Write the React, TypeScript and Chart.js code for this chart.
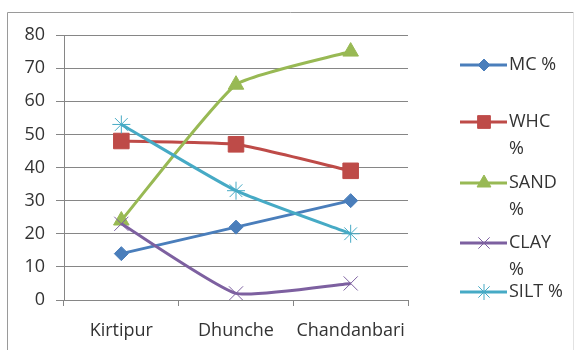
import React, { useEffect, useRef } from "react";
import { Chart, registerables } from "chart.js";
import { drawPoint } from "chart.js/helpers";

Chart.register(...registerables);

const categories = ["Kirtipur", "Dhunche", "Chandanbari"];
const mcValues = [14, 22, 30];
const whcValues = [48, 47, 39];
const sandValues = [24, 65, 75];
const clayValues = [23, 2, 5];
const siltValues = [53, 33, 20];
const seriesNames = ["MC %", "WHC %", "SAND %", "CLAY %", "SILT %"];
const yMin = 0;
const yMax = 80;
const yStep = 10;

const FONT_FAMILY = "'Open Sans', sans-serif";
const TEXT_COLOR = "#333333";
const GRID_COLOR = "#868686";

const legendPlugin = {
  id: "sideLegend",
  afterDraw(chart: any) {
    const ctx = chart.ctx as CanvasRenderingContext2D;
    const ys = [65, 122, 183, 243, 292];
    const lineH = 27;
    ctx.save();
    ctx.font = `18px ${FONT_FAMILY}`;
    ctx.textBaseline = "middle";
    ctx.textAlign = "left";
    chart.data.datasets.forEach((ds: any, i: number) => {
      const y = ys[i];
      ctx.strokeStyle = ds.borderColor;
      ctx.lineWidth = 3;
      ctx.beginPath();
      ctx.moveTo(460, y);
      ctx.lineTo(507, y);
      ctx.stroke();
      ctx.fillStyle = ds.pointBackgroundColor;
      ctx.strokeStyle = ds.pointBorderColor;
      ctx.lineWidth = ds.pointBorderWidth;
      drawPoint(ctx, {
        pointStyle: ds.pointStyle,
        rotation: 0,
        radius: ds.legendRadius,
        borderWidth: ds.pointBorderWidth,
      } as any, 484, y);
      const words = String(ds.label).split(" ");
      const lines: string[] = [];
      let cur = "";
      words.forEach((w) => {
        const test = cur ? cur + " " + w : w;
        if (cur && ctx.measureText(test).width > 58) {
          lines.push(cur);
          cur = w;
        } else cur = test;
      });
      if (cur) lines.push(cur);
      ctx.fillStyle = TEXT_COLOR;
      lines.forEach((l, j) => ctx.fillText(l, 509, y + j * lineH));
    });
    ctx.restore();
  },
};

const borderPlugin = {
  id: "outerBorder",
  afterDraw(chart: any) {
    const ctx = chart.ctx as CanvasRenderingContext2D;
    ctx.save();
    ctx.lineWidth = 1;
    ctx.strokeStyle = "#9a9a9a";
    ctx.beginPath();
    ctx.moveTo(7.5, 351);
    ctx.lineTo(7.5, 12.5);
    ctx.lineTo(573.5, 12.5);
    ctx.stroke();
    ctx.strokeStyle = "#e2e2e2";
    ctx.beginPath();
    ctx.moveTo(573.5, 12.5);
    ctx.lineTo(573.5, 351);
    ctx.stroke();
    ctx.restore();
  },
};

export default function App() {
  const ref = useRef<HTMLCanvasElement | null>(null);

  useEffect(() => {
    if (!ref.current) return;
    const mk = (
      label: string,
      data: number[],
      color: string,
      pointStyle: string,
      radius: number,
      legendRadius: number,
      pbw: number,
      order: number
    ) => ({
      label,
      data,
      borderColor: color,
      backgroundColor: color,
      pointBackgroundColor: color,
      pointBorderColor: color,
      pointStyle,
      pointRadius: radius,
      pointHoverRadius: radius,
      pointBorderWidth: pbw,
      legendRadius,
      borderWidth: 3,
      tension: 0.15,
      order,
    });
    const chart = new Chart(ref.current, {
      type: "line",
      data: {
        labels: categories,
        datasets: [
          mk(seriesNames[0], mcValues, "#4A7EBB", "rectRot", 7, 6, 1, 5),
          mk(seriesNames[1], whcValues, "#BE4B48", "rect", 11, 9, 1, 4),
          mk(seriesNames[2], sandValues, "#98B954", "triangle", 9, 8, 1, 3),
          mk(seriesNames[3], clayValues, "#7D60A0", "crossRot", 10, 8, 1, 2),
          mk(seriesNames[4], siltValues, "#46AAC5", "star", 9, 8, 1, 1),
        ] as any,
      },
      options: {
        animation: false,
        responsive: false,
        maintainAspectRatio: false,
        layout: { padding: { top: 35, right: 169, left: 0, bottom: 0 } },
        plugins: {
          legend: { display: false },
          tooltip: { enabled: false },
        },
        scales: {
          x: {
            offset: true,
            grid: {
              drawOnChartArea: false,
              drawTicks: true,
              tickLength: 6,
              color: GRID_COLOR,
              offset: true,
            },
            border: { color: GRID_COLOR },
            ticks: {
              font: { family: FONT_FAMILY, size: 18 },
              color: TEXT_COLOR,
              padding: 14,
              maxRotation: 0,
            },
            afterFit(s: any) {
              s.height = 50;
            },
          },
          y: {
            min: yMin,
            max: yMax,
            ticks: {
              stepSize: yStep,
              font: { family: FONT_FAMILY, size: 18 },
              color: TEXT_COLOR,
              padding: 11,
            },
            grid: { color: GRID_COLOR, tickLength: 8 },
            border: { color: GRID_COLOR },
            afterFit(s: any) {
              s.width = 64;
            },
          },
        },
      } as any,
      plugins: [legendPlugin, borderPlugin],
    });
    return () => chart.destroy();
  }, []);

  return (
    <div style={{ position: "absolute", left: 0, top: 0, width: 577, height: 350, background: "#fff" }}>
      <canvas ref={ref} width={577} height={350} style={{ width: 577, height: 350, display: "block" }} />
    </div>
  );
}
